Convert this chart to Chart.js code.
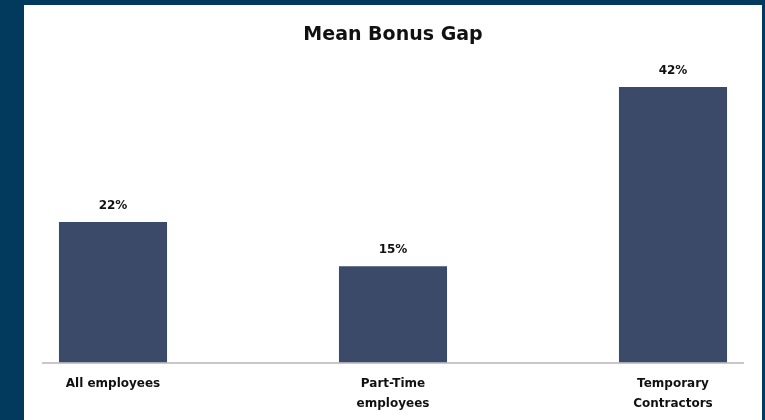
<!DOCTYPE html>
<html><head><meta charset="utf-8">
<script src="https://cdn.jsdelivr.net/npm/chart.js@4/dist/chart.umd.min.js"></script>
<style>
html,body{margin:0;padding:0;background:#013a5d;width:765px;height:420px;overflow:hidden}
#panel{position:absolute;left:24px;top:5px;width:738px;height:415px;background:#fff}
canvas{display:block}
</style></head><body>
<div id="panel"><canvas id="c" width="738" height="415" style="width:738px;height:415px"></canvas></div>
<script>
const categories = [['All employees'], ['Part-Time', 'employees'], ['Temporary', 'Contractors']];
const gapValues = [21.6, 14.8, 42.3];
const chartTitle = 'Mean Bonus Gap';

const FONT = '"DejaVu Sans", sans-serif';

const valueLabelPlugin = {
  id: 'valueLabels',
  afterDatasetsDraw(chart) {
    const ctx = chart.ctx;
    const meta = chart.getDatasetMeta(0);
    ctx.save();
    ctx.font = 'bold 12px ' + FONT;
    ctx.fillStyle = '#111111';
    ctx.textAlign = 'center';
    ctx.textBaseline = 'middle';
    meta.data.forEach((bar, i) => {
      ctx.fillText(Math.round(gapValues[i]) + '%', bar.x, bar.y - 16);
    });
    ctx.restore();
  }
};

new Chart(document.getElementById('c'), {
  type: 'bar',
  data: {
    datasets: [{
      data: gapValues.map((v, i) => ({ x: i, y: v })),
      backgroundColor: '#3a4a68',
      borderWidth: 0,
      barPercentage: 0.386,
      categoryPercentage: 1
    }]
  },
  options: {
    responsive: false,
    animation: false,
    devicePixelRatio: 1,
    layout: { padding: { left: 19, right: 19, top: 0, bottom: -5 } },
    plugins: {
      legend: { display: false },
      tooltip: { enabled: false },
      title: {
        display: true,
        text: chartTitle,
        color: '#111111',
        font: { family: FONT, size: 19, weight: 'bold', lineHeight: 1.2 },
        padding: { top: 19, bottom: 8 }
      }
    },
    scales: {
      x: {
        type: 'linear',
        offset: false,
        min: -0.25,
        max: 2.25,
        grid: { display: false, drawTicks: false },
        border: { display: true, color: '#c8c8c8', width: 2 },
        afterBuildTicks: (scale) => { scale.ticks = categories.map((_, i) => ({ value: i })); },
        ticks: {
          autoSkip: false,
          maxRotation: 0,
          padding: 12,
          color: '#111111',
          font: { family: FONT, size: 12, weight: 'bold', lineHeight: 1.6 },
          callback: (value) => categories[value]
        }
      },
      y: {
        display: false,
        min: 0,
        max: 47.25
      }
    }
  },
  plugins: [valueLabelPlugin]
});
</script>
</body></html>
